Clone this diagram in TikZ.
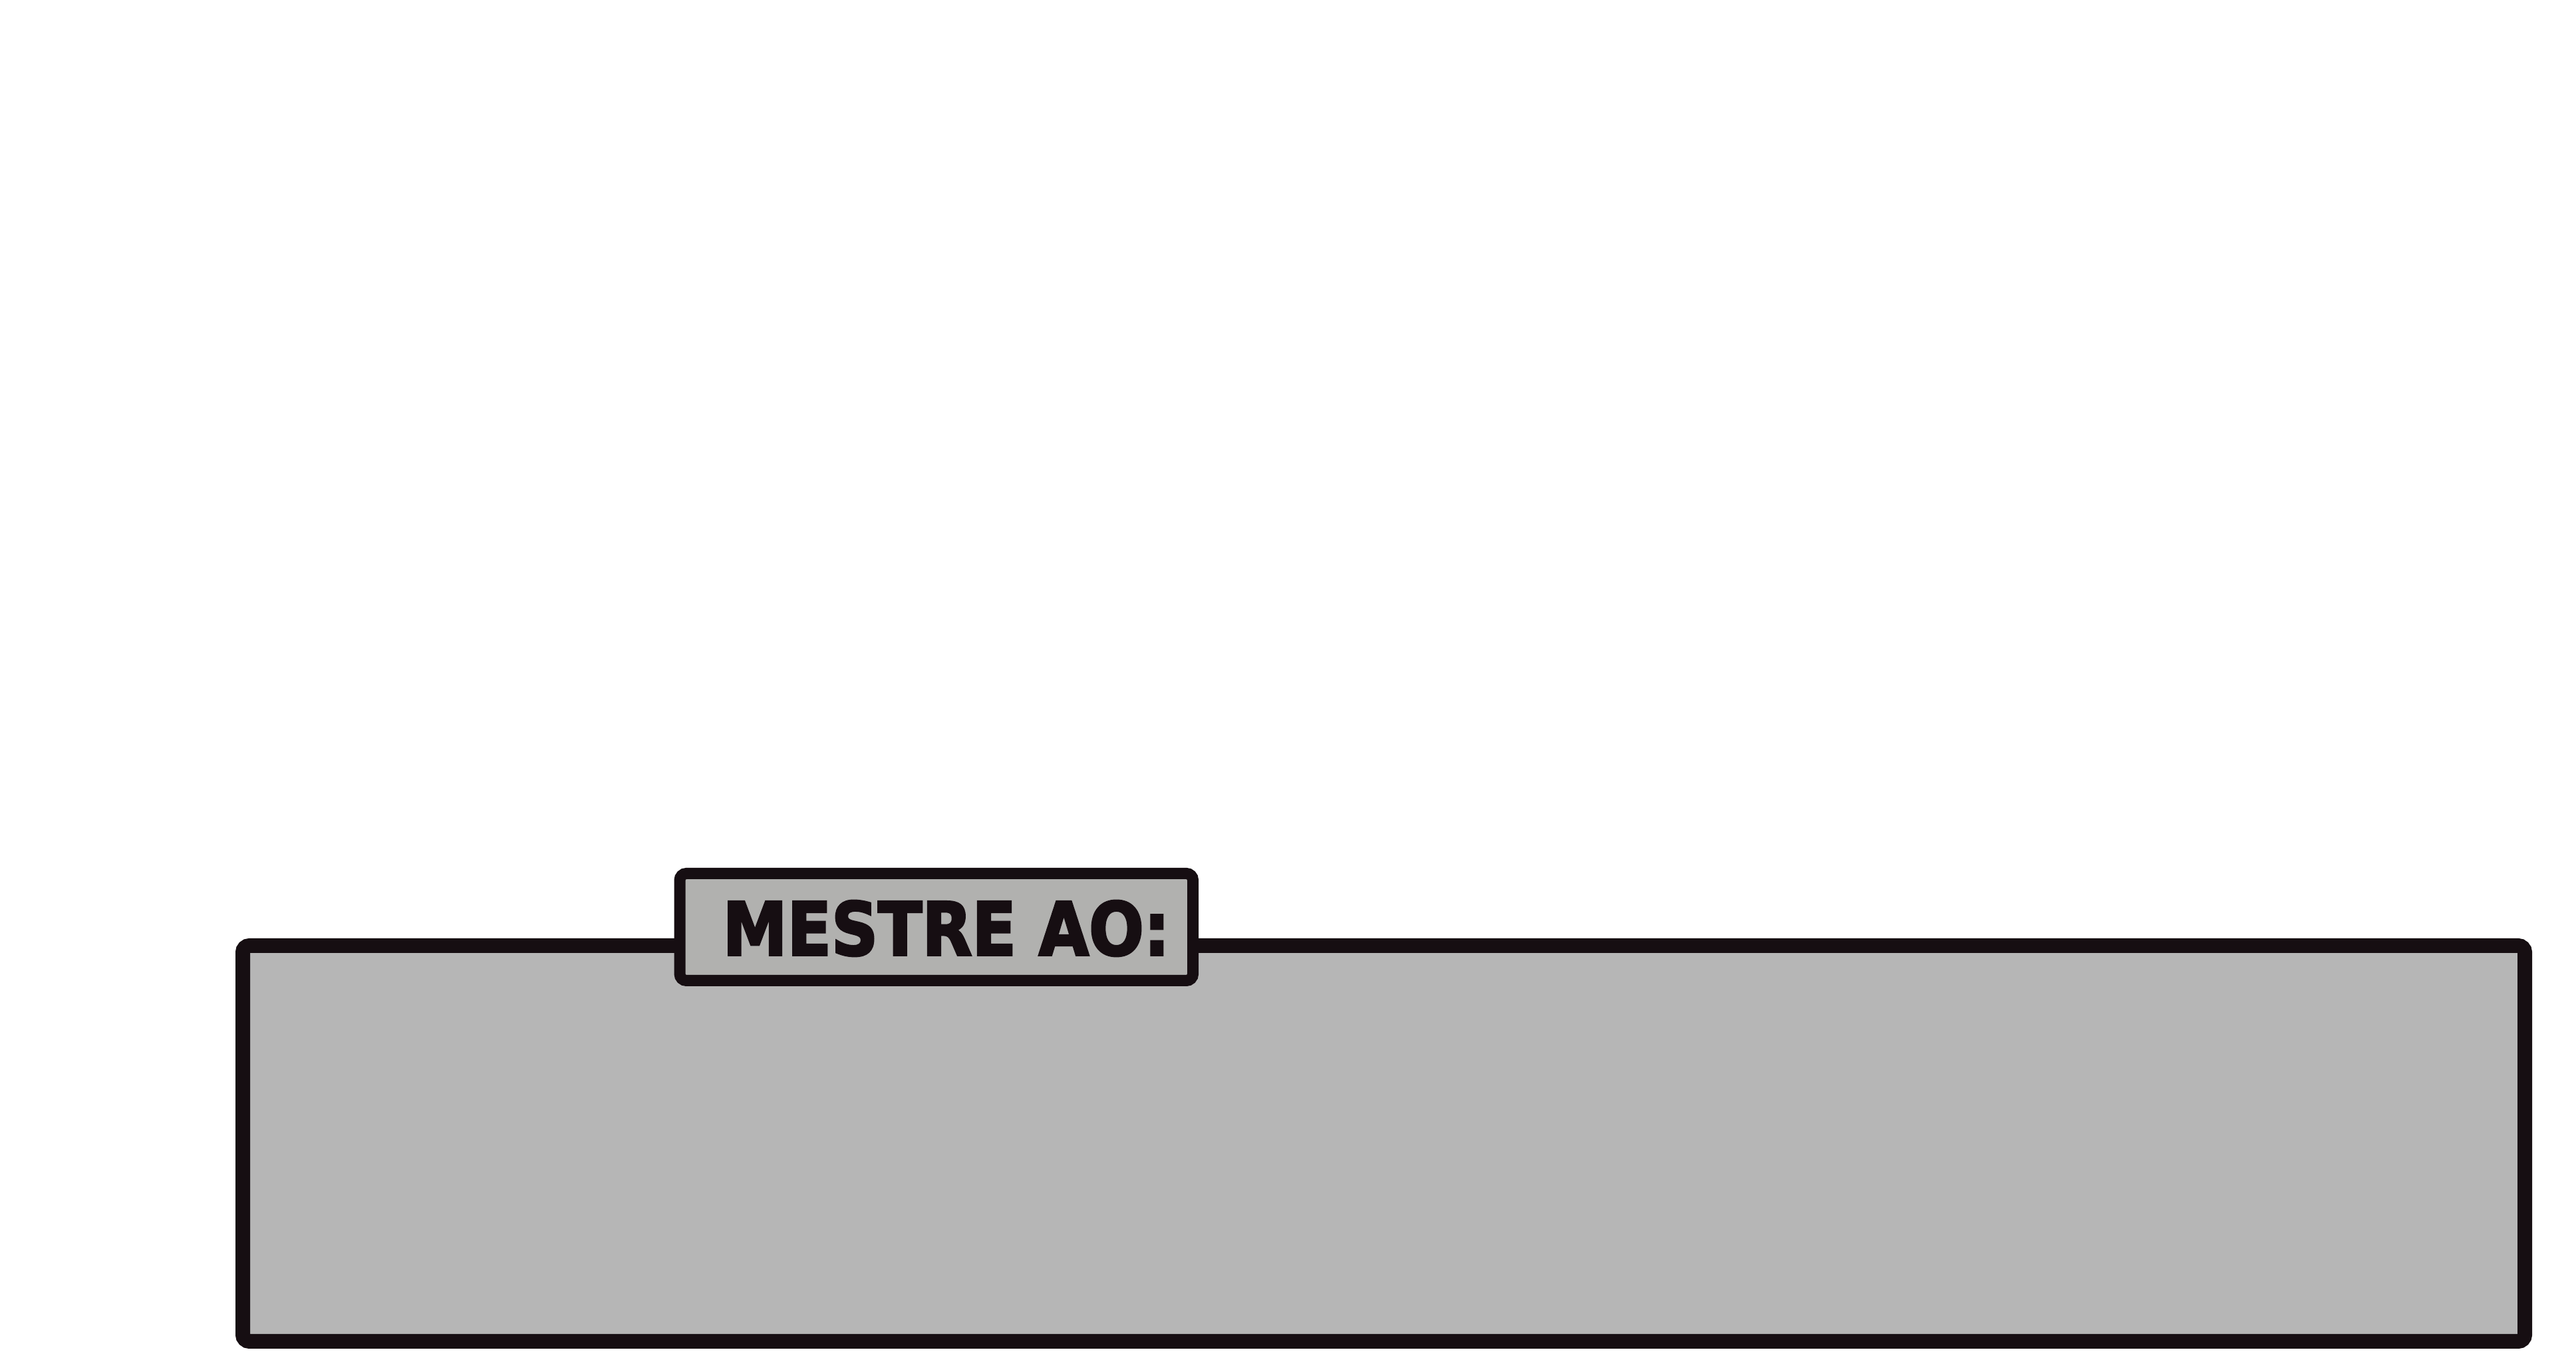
\documentclass[tikz,border=0pt]{standalone}
\usepackage{fontspec}
\usepackage{graphicx}
\usepackage{tikz}
\usetikzlibrary{positioning}
\newfontfamily\tagfont{DejaVu Sans}[BoldFeatures={FakeBold=3}]

\definecolor{inkline}{HTML}{160E12}
\definecolor{panelgray}{HTML}{B6B6B6}
\definecolor{taggray}{HTML}{B1B1AF}

\begin{document}
\begin{tikzpicture}[panel/.style={draw=inkline, fill=panelgray, line width=0.22cm, rounded corners=0.1cm},
                    tagbox/.style={draw=inkline, fill=taggray, line width=0.17cm, rounded corners=0.1cm,
                                   minimum width=7.715cm, minimum height=1.61cm, inner sep=0pt}
                    ]

    \useasboundingbox (0,0) rectangle (38.73,20.42);

    % PANEL %
    \draw[panel] (3.65,0.25) rectangle (37.96,6.20);

    % TAG %
    \node[tagbox] (tag) at (14.078,6.48) {};
    \node[inkline, inner sep=0pt] (tagtext) at ([xshift=0.15cm,yshift=-0.02cm]tag.center)
        {\resizebox{6.72cm}{0.82cm}{\tagfont\bfseries MESTRE AO:}};

\end{tikzpicture}
\end{document}
